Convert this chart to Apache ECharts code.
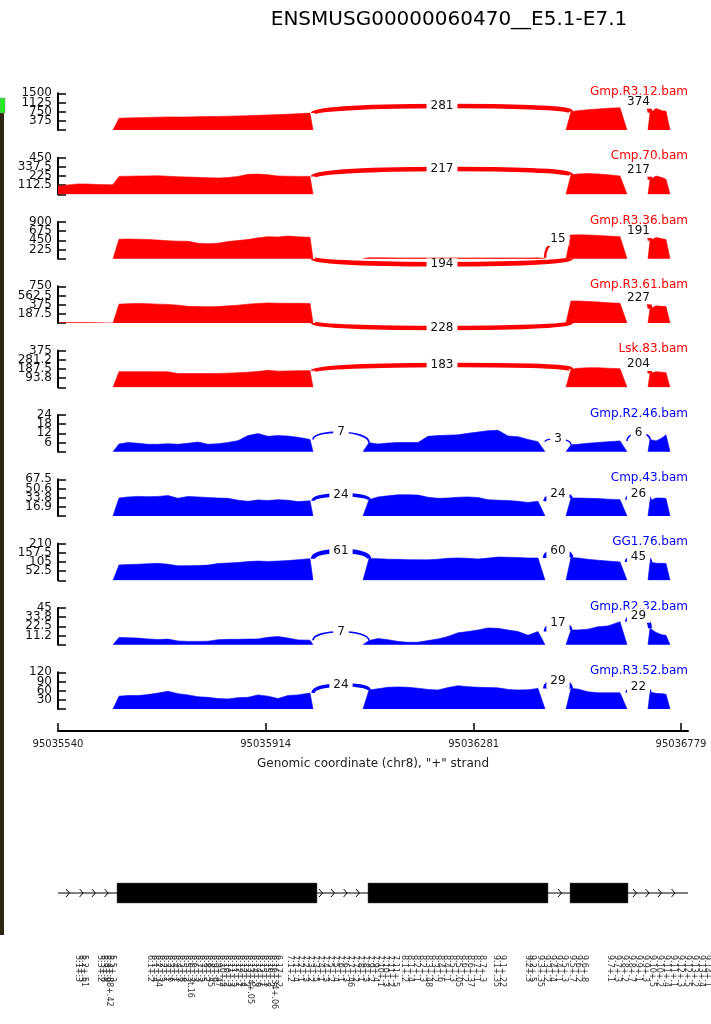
<!DOCTYPE html>
<html>
<head>
<meta charset="utf-8">
<script src="https://cdn.jsdelivr.net/npm/echarts@6.0.0/dist/echarts.min.js"></script>
<style>
  html, body { margin: 0; padding: 0; background: #fff; }
  #chart { width: 711px; height: 1024px; }
</style>
</head>
<body>
<div id="chart"></div>
<script>
// sashimi plot, x in compressed plot units (0..630)
const samples = ['Gmp.R3.12.bam', 'Cmp.70.bam', 'Gmp.R3.36.bam', 'Gmp.R3.61.bam', 'Lsk.83.bam',
  'Gmp.R2.46.bam', 'Cmp.43.bam', 'GG1.76.bam', 'Gmp.R2.32.bam', 'Gmp.R3.52.bam']
const groups = ['red', 'red', 'red', 'red', 'red', 'blue', 'blue', 'blue', 'blue', 'blue']
const yMax = [1500, 450, 900, 750, 375, 24, 67.5, 210, 45, 120]
const yTickLabels = [
  ['', '375', '750', '1125', '1500'],
  ['', '112.5', '225', '337.5', '450'],
  ['', '225', '450', '675', '900'],
  ['', '187.5', '375', '562.5', '750'],
  ['', '93.8', '187.5', '281.2', '375'],
  ['', '6', '12', '18', '24'],
  ['', '16.9', '33.8', '50.6', '67.5'],
  ['', '52.5', '105', '157.5', '210'],
  ['', '11.2', '22.5', '33.8', '45'],
  ['', '30', '60', '90', '120']
]

// coverage sample positions (first / last are the zero edges of each block)
const preX = [0, 10, 20, 30, 40, 50]
const ex1X = [55, 61, 70, 80, 90, 100, 110, 120, 130, 140, 150, 160, 170, 180, 190, 200, 210, 220, 230, 240, 252, 255]
const ex2X = [305, 311, 320, 330, 340, 350, 360, 370, 380, 390, 400, 410, 420, 430, 440, 450, 460, 470, 480, 487]
const ex3X = [508, 513, 520, 530, 540, 550, 562, 569]
const ex4X = [590, 592, 598, 604, 608, 612]

const covPre = [null, [100, 115, 128, 126, 120, 118], null, [0, 8, 8, 8, 6, 0], null, null, null, null, null, null]
const cov1 = [
  [480, 495, 505, 515, 525, 535, 530, 535, 545, 550, 555, 565, 575, 585, 600, 615, 630, 645, 665, 690],
  [220, 222, 225, 226, 228, 222, 216, 212, 208, 204, 200, 205, 220, 245, 248, 240, 225, 222, 220, 220],
  [478, 480, 478, 470, 455, 440, 430, 425, 380, 365, 380, 420, 445, 470, 510, 540, 530, 555, 535, 525],
  [385, 395, 400, 395, 385, 380, 365, 340, 335, 333, 335, 350, 365, 385, 400, 410, 405, 402, 402, 400],
  [160, 160, 160, 160, 160, 158, 140, 140, 140, 140, 142, 145, 150, 155, 162, 175, 165, 168, 170, 170],
  [5.0, 6.0, 5.5, 4.8, 4.8, 5.2, 4.8, 5.5, 6.3, 4.8, 5.2, 6.0, 7.2, 10.5, 11.8, 10.0, 10.5, 10.2, 9.4, 8.0],
  [33, 35, 36, 35.5, 36, 37.5, 32.5, 36, 35, 34, 33, 32.5, 29, 27, 29.5, 28.5, 30, 29, 26.5, 28],
  [88, 90, 92, 95, 97, 92, 83, 84, 85, 87, 96, 99, 102, 107, 110, 108, 110, 113, 118, 124],
  [8.8, 8.6, 8, 7, 6.3, 6.8, 4.5, 4, 4, 4.2, 6, 6.5, 6.5, 6.8, 7, 9, 10, 8, 5.8, 5.5],
  [42, 44, 44, 47, 52, 58, 50, 46, 40, 38, 34, 33, 37, 38, 46, 42, 34, 44, 46, 52]
]
const cov2 = [
  null,
  null,
  [25, 22, 20, 18, 18, 18, 18, 18, 18, 18, 18, 18, 18, 18, 18, 18, 18, 20],
  null,
  null,
  [5.9, 5.0, 5.6, 6.0, 6.0, 6.0, 10.0, 10.5, 10.8, 11.0, 12.0, 12.8, 13.7, 14.0, 10.2, 9.8, 8.0, 6.5],
  [30, 35, 37, 39, 39, 38.5, 34.5, 32.5, 33, 34.5, 35, 34, 30, 29, 28.5, 27, 25, 27],
  [125, 124, 121, 120, 118, 118, 117, 121, 126, 128, 126, 122, 127, 133, 132, 130, 128, 128],
  [5, 7.5, 6, 4, 2.8, 3, 5, 7, 10, 14.5, 16, 18, 20.5, 20, 18, 16, 11.5, 16],
  [62, 66, 71, 72, 71, 68, 64, 62, 70, 76, 73, 71, 70, 69, 64, 62, 63, 67]
]
const cov3 = [
  [750, 790, 830, 860, 890, 910],
  [240, 250, 255, 250, 240, 225],
  [580, 585, 580, 570, 555, 540],
  [450, 448, 440, 430, 415, 402],
  [185, 195, 200, 200, 195, 190],
  [4.5, 4.8, 5.5, 6.0, 6.5, 7.0],
  [33, 33, 32.5, 32, 31, 30],
  [130, 128, 120, 115, 110, 105],
  [18, 18, 19, 22, 23, 28],
  [67, 65, 56, 53, 53, 53]
]
const cov4 = [
  [700, 880, 790, 770],
  [180, 225, 205, 185],
  [440, 520, 490, 470],
  [290, 350, 340, 335],
  [140, 160, 155, 150],
  [8.0, 7.0, 9.0, 11.0],
  [28, 33, 33, 32],
  [105, 98, 97, 96],
  [20, 15, 12, 11.5],
  [55, 51, 50, 48]
]

// junctions: [fromExon, toExon, reads, arc height (data units), below]
const junctions = [
  [[0, 2, 281, 981, 0], [2, 3, 374, 1157, 0]],
  [[0, 2, 217, 310, 0], [2, 3, 217, 302, 0]],
  [[0, 2, 194, -136, 1], [1, 2, 15, 485, 0], [2, 3, 191, 676, 0]],
  [[0, 2, 228, -100, 1], [2, 3, 227, 523, 0]],
  [[0, 2, 183, 229, 0], [2, 3, 204, 239, 0]],
  [[0, 1, 7, 12.7, 0], [1, 2, 3, 8.3, 0], [2, 3, 6, 12.0, 0]],
  [[0, 1, 24, 38.9, 0], [1, 2, 24, 40.1, 0], [2, 3, 26, 40.7, 0]],
  [[0, 1, 61, 168, 0], [1, 2, 60, 168, 0], [2, 3, 45, 132, 0]],
  [[0, 1, 7, 15.8, 0], [1, 2, 17, 26.3, 0], [2, 3, 29, 35.4, 0]],
  [[0, 1, 24, 78.5, 0], [1, 2, 29, 91.6, 0], [2, 3, 22, 71, 0]]
]

const tickPos = [0, 207.7, 415.7, 623]
const tickLabels = ['95035540', '95035914', '95036281', '95036779']
const axisName = 'Genomic coordinate (chr8), "+" strand'
const title = 'ENSMUSG00000060470__E5.1-E7.1'

// gene model
const geneExons = [[59, 259], [310, 490], [512, 570]]
const chevronX = [10, 23.6, 35.9, 48.6, 263, 275, 287.6, 300, 502, 577, 589.6, 602, 615.5]

// feature labels under the gene model (unreadable in the source, approximated)
const noteX = [20, 23, 26, 42, 45, 48, 51, 54,
  92, 96, 100, 104, 108, 112, 116, 120, 124, 128, 132, 136, 140, 144, 148, 152, 156, 160, 164, 168, 172, 176, 180, 184, 188, 192, 196, 200, 204, 208, 212, 216, 220,
  232, 237, 242, 247, 252, 257, 262, 267, 272, 277, 282, 287, 292, 297, 302, 307, 312, 317, 322, 327, 332, 337,
  346, 352, 358, 364, 370, 376, 382, 388, 394, 400, 406, 412, 418, 424,
  438, 444,
  470, 474, 482, 488, 494, 500, 506, 514, 520, 526,
  552, 559, 566, 573, 580, 587, 594, 601, 608, 615, 622, 629, 636, 643, 649]
const noteText = ['5.1+.3', '5.1+.5', '5.2+.51', '5.3+.2', '5.3+.6', '5.4+.9', '5.4+.88+.42', '5.5+.3',
  '6.1+.2', '6.1+.4', '6.2+.34', '6.2+.5', '6.3+.1', '6.3+.6', '6.4+.1', '6.4+.3', '6.5+.8', '6.5+.2', '6.6+.3t.16', '6.6+.3', '6.7+.3', '6.7+.5', '6.8+.2', '6.8+.45', '6.9+.6', '6.9+.47', '6.10+.2', '6.10+.2', '6.11+.3', '6.11+.5', '6.12+.1', '6.12+.4', '6.13+.2', '6.13+4+.05', '6.14+.3', '6.14+.6', '6.15+.1', '6.15+.3', '6.16+.2', '6.16+34+.06', '6.17+.2',
  '7.1+.2', '7.1+.4', '7.2+.1', '7.2+.3', '7.3+.2', '7.3+.5', '7.4+.1', '7.4+.3', '7.5+.2', '7.5+.4', '7.6+.1', '7.6+.3', '7.7+.46', '7.7+.2', '7.8+.1', '7.8+.3', '7.9+.2', '7.9+.4', '7.10+.1', '7.10+.3', '7.11+.2', '7.11+.5',
  '8.1+.2', '8.1+.4', '8.2+.1', '8.2+.3', '8.3+.48', '8.3+.2', '8.4+.6', '8.4+.1', '8.5+.3', '8.5+.05', '8.6+.2', '8.6+.37', '8.7+.1', '8.7+.3',
  '9.1+.35', '9.1+.22',
  '9.2+.3', '9.2+.5', '9.3+.35', '9.3+.2', '9.4+.4', '9.4+.1', '9.5+.3', '9.5+.7', '9.6+.2', '9.6+.8',
  '9.7+.1', '9.7+.3', '9.8+.2', '9.8+.7', '9.9+.1', '9.9+.3', '9.10+.5', '9.10+.2', '9.11+.4', '9.11+.1', '9.12+.3', '9.12+.5', '9.13+.2', '9.13+.4', '9.14+.1']

const PANEL_TOP0 = 93.3
const PANEL_STEP = 64.33
const PANEL_H = 36.7
const LEFT = 58
const WIDTH = 630
const COLORS = { red: '#ff0000', blue: '#0000ff' }

const exX = [ex1X, ex2X, ex3X, ex4X]
function exCov(i, e) {
  return [cov1, cov2, cov3, cov4][e][i]
}

function coverage(i) {
  const pts = []
  if (covPre[i]) {
    preX.forEach((x, k) => pts.push([x, covPre[i][k]]))
  }
  for (let e = 0; e < 4; e++) {
    const vals = exCov(i, e)
    if (!vals) continue
    const xs = exX[e]
    const joinPre = e === 0 && covPre[i]
    if (pts.length && !joinPre) pts.push([xs[0] - 1, null])
    const startVal = joinPre ? covPre[i][covPre[i].length - 1] : 0
    pts.push([xs[0], startVal])
    vals.forEach((v, k) => pts.push([xs[k + 1], v]))
    pts.push([xs[xs.length - 1], 0])
  }
  return pts
}

function arcData(i) {
  return junctions[i].map(j => {
    const a = j[0], b = j[1]
    const va = exCov(i, a), vb = exCov(i, b)
    const xa = exX[a], xb = exX[b]
    const below = j[4] === 1
    return [xa[xa.length - 1], below ? 0 : va[va.length - 1], xb[1], below ? 0 : vb[0], j[3], j[2]]
  })
}

const grids = [], xAxes = [], yAxes = [], series = [], graphics = []

for (let i = 0; i < samples.length; i++) {
  const top = PANEL_TOP0 + i * PANEL_STEP
  const color = COLORS[groups[i]]
  const step = yMax[i] / 4
  grids.push({ left: LEFT, width: WIDTH, top: top, height: PANEL_H })
  xAxes.push({ gridIndex: i, type: 'value', min: 0, max: WIDTH, show: false })
  yAxes.push({
    gridIndex: i, type: 'value', min: 0, max: yMax[i], interval: step,
    axisLine: { show: true, lineStyle: { color: '#000', width: 2 } },
    axisTick: { show: true, inside: true, length: 8, lineStyle: { color: '#000', width: 1.5 } },
    axisLabel: { show: false },
    splitLine: { show: false }
  })
  // tick labels overlap in the source, so they are drawn as text at each tick value
  series.push({
    type: 'custom', xAxisIndex: i, yAxisIndex: i,
    data: yTickLabels[i].map((t, k) => [0, k * step, k]).filter(d => yTickLabels[i][d[2]]),
    silent: true, animation: false, z: 4,
    renderItem: function (params, api) {
      const p = api.coord([api.value(0), api.value(1)])
      return {
        type: 'text', x: p[0] - 6, y: p[1],
        style: { text: yTickLabels[i][api.value(2)], fill: '#111', font: '12px "DejaVu Sans"', align: 'right', verticalAlign: 'middle' }
      }
    }
  })
  series.push({
    type: 'line', xAxisIndex: i, yAxisIndex: i, data: coverage(i),
    symbol: 'none', connectNulls: false, silent: true, animation: false,
    lineStyle: { color: color, width: 0.6 },
    itemStyle: { color: color },
    areaStyle: { color: color, opacity: 1 }
  })
  series.push({
    type: 'custom', xAxisIndex: i, yAxisIndex: i, data: arcData(i),
    encode: { x: [0, 2], y: [1, 3] }, silent: true, animation: false, z: 3,
    renderItem: function (params, api) {
      const p1 = api.coord([api.value(0), api.value(1)])
      const p2 = api.coord([api.value(2), api.value(3)])
      const ym = api.coord([0, api.value(4)])[1]
      const yc = (ym - 0.125 * (p1[1] + p2[1])) / 0.75
      const n = api.value(5)
      const w = Math.min(4.5, 1 + n / 10)
      return {
        type: 'group',
        children: [
          {
            type: 'bezierCurve',
            shape: { x1: p1[0], y1: p1[1], x2: p2[0], y2: p2[1], cpx1: p1[0], cpy1: yc, cpx2: p2[0], cpy2: yc },
            style: { stroke: color, lineWidth: w, fill: 'none' }
          },
          {
            type: 'text', x: (p1[0] + p2[0]) / 2, y: ym,
            style: {
              text: String(n), fill: '#111', font: '12px "DejaVu Sans"',
              align: 'center', verticalAlign: 'middle',
              backgroundColor: '#fff', padding: [1, 4]
            }
          }
        ]
      }
    }
  })
  graphics.push({
    type: 'text', x: LEFT + WIDTH, y: top - 1.5,
    style: {
      text: samples[i], fill: color, font: '12px "DejaVu Sans"',
      align: 'right', verticalAlign: 'middle', textAlign: 'right', textVerticalAlign: 'middle'
    }
  })
}

// genomic axis
grids.push({ left: LEFT, width: WIDTH, top: 730, height: 1 })
xAxes.push({
  gridIndex: 10, type: 'value', min: 0, max: WIDTH, position: 'bottom',
  axisLine: { show: true, onZero: false, lineStyle: { color: '#000', width: 2 } },
  axisTick: { show: true, inside: true, length: 8, customValues: tickPos, lineStyle: { color: '#000', width: 1.5 } },
  axisLabel: {
    show: true, customValues: tickPos, fontSize: 10, color: '#222', margin: 8,
    formatter: v => tickLabels[tickPos.indexOf(v)] || ''
  },
  splitLine: { show: false },
  name: axisName, nameLocation: 'middle', nameGap: 27,
  nameTextStyle: { fontSize: 12, color: '#222' }
})
yAxes.push({ gridIndex: 10, type: 'value', show: false })

// gene model
grids.push({ left: LEFT, width: WIDTH, top: 883, height: 20 })
xAxes.push({ gridIndex: 11, type: 'value', min: 0, max: WIDTH, show: false })
yAxes.push({ gridIndex: 11, type: 'value', min: 0, max: 1, show: false })
series.push({
  type: 'line', xAxisIndex: 11, yAxisIndex: 11, data: [[0, 0.5], [WIDTH, 0.5]],
  symbol: 'none', silent: true, animation: false, lineStyle: { color: '#000', width: 1 }
})
series.push({
  type: 'custom', xAxisIndex: 11, yAxisIndex: 11, data: geneExons, silent: true, animation: false, z: 3,
  renderItem: function (params, api) {
    const a = api.coord([api.value(0), 1])
    const b = api.coord([api.value(1), 0])
    return { type: 'rect', shape: { x: a[0], y: a[1], width: b[0] - a[0], height: b[1] - a[1] }, style: { fill: '#000', stroke: '#555', lineWidth: 0.5 } }
  }
})
series.push({
  type: 'custom', xAxisIndex: 11, yAxisIndex: 11, data: chevronX.map(x => [x, 0.5]), silent: true, animation: false, z: 3,
  renderItem: function (params, api) {
    const p = api.coord([api.value(0), api.value(1)])
    return {
      type: 'polyline',
      shape: { points: [[p[0] - 2, p[1] - 4], [p[0] + 1.5, p[1]], [p[0] - 2, p[1] + 4]] },
      style: { stroke: '#000', lineWidth: 1, fill: 'none' }
    }
  }
})

// feature labels
grids.push({ left: LEFT, width: WIDTH, top: 955, height: 60 })
xAxes.push({ gridIndex: 12, type: 'value', min: 0, max: WIDTH, show: false })
yAxes.push({ gridIndex: 12, type: 'value', min: 0, max: 1, show: false })
series.push({
  type: 'custom', xAxisIndex: 12, yAxisIndex: 12, data: noteX.map((x, k) => [x, 1, k]), silent: true, animation: false,
  renderItem: function (params, api) {
    const p = api.coord([api.value(0), api.value(1)])
    return {
      type: 'text', x: p[0], y: p[1], rotation: -Math.PI / 2,
      style: { text: noteText[api.value(2)] || '', fill: '#333', font: '8px "DejaVu Sans"', align: 'left', verticalAlign: 'middle' }
    }
  }
})

graphics.push({
  type: 'text', x: 449, y: 20,
  style: { text: title, fill: '#000', font: '20px "DejaVu Sans"', align: 'center', verticalAlign: 'middle', textAlign: 'center', textVerticalAlign: 'middle' }
})
// side strip
graphics.push({ type: 'rect', shape: { x: 0, y: 113, width: 4, height: 822 }, style: { fill: '#2a2410' } })
graphics.push({ type: 'rect', shape: { x: 0, y: 98, width: 5, height: 15 }, style: { fill: '#22ee22', stroke: '#888', lineWidth: 0.5 } })

const chart = echarts.init(document.getElementById('chart'), null, { renderer: 'canvas' })
chart.setOption({
  animation: false,
  backgroundColor: '#fff',
  textStyle: { fontFamily: 'DejaVu Sans' },
  grid: grids,
  xAxis: xAxes,
  yAxis: yAxes,
  series: series,
  graphic: graphics
})
</script>
</body>
</html>
